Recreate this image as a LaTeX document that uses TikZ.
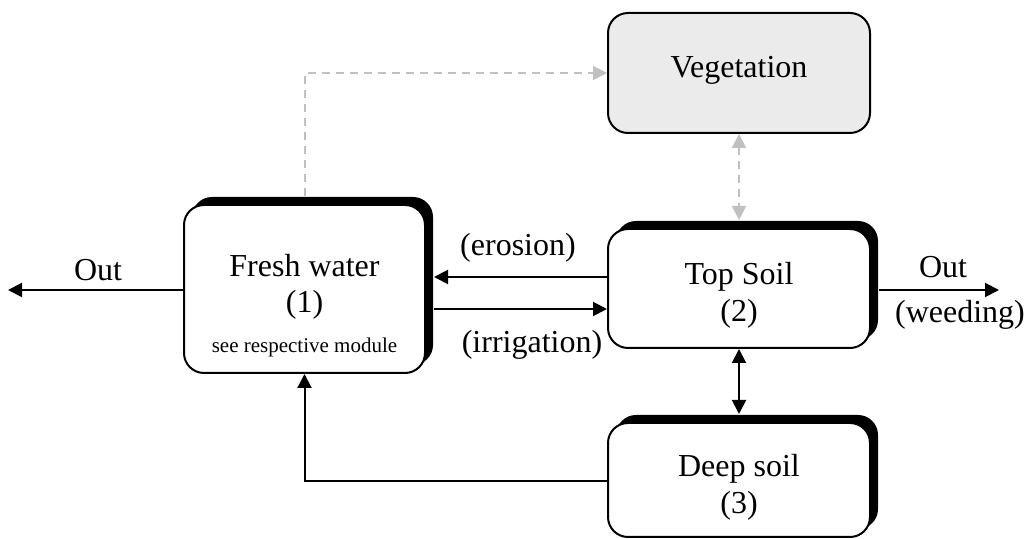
\documentclass[tikz,border=0pt]{standalone}
\usepackage{fontspec}
\setmainfont{Liberation Serif}
\usetikzlibrary{arrows.meta,shadows}
\definecolor{vegfill}{HTML}{EBEBEB}
\definecolor{flowgray}{HTML}{C0C0C0}
\begin{document}
\begin{tikzpicture}[x=0.5pt,y=-0.5pt,
  box/.style={draw=black,line width=1pt,rounded corners=10pt,fill=white,
    inner sep=0pt},
  shadowbox/.style={box,drop shadow={shadow xshift=4pt,shadow yshift=4pt,
    fill=black,opacity=1}},
  big/.style={font=\fontsize{16}{19}\selectfont,anchor=base,inner sep=0pt},
  small/.style={font=\fontsize{10.5}{12}\selectfont,anchor=base,inner sep=0pt},
  arr/.style={line width=1pt,-{Triangle[length=7pt,width=7pt]}},
  dblarr/.style={line width=1pt,{Triangle[length=7pt,width=7pt]}-{Triangle[length=7pt,width=7pt]}},
  grayarr/.style={flowgray,line width=1pt,dash pattern=on 4pt off 3pt,
    -{Triangle[length=7pt,width=7pt]}},
  graydbl/.style={flowgray,line width=1pt,dash pattern=on 4pt off 3pt,
    {Triangle[length=7pt,width=7pt]}-{Triangle[length=7pt,width=7pt]}}]
\useasboundingbox (0,0) rectangle (1024,539);

% compartments
\node[shadowbox,minimum width=120.5pt,minimum height=84pt] (fw) at (304.5,289) {};
\node[shadowbox,minimum width=131pt,minimum height=59.5pt] (ts) at (739,288.5) {};
\node[shadowbox,minimum width=131pt,minimum height=57pt] (ds) at (739,480) {};
\node[box,fill=vegfill,minimum width=131pt,minimum height=60pt] (veg) at (739,73) {};

% compartment texts
\node[big] (fw1) at (304.5,277) {Fresh water};
\node[big] (fw2) at (304.5,313) {(1)};
\node[small] (fw3) at (304.5,353) {see respective module};
\node[big] (ts1) at (739,285) {Top Soil};
\node[big] (ts2) at (739,322) {(2)};
\node[big] (veg1) at (739,78) {Vegetation};
\node[big] (ds1) at (739,477) {Deep soil};
\node[big] (ds2) at (739,514) {(3)};

% shadow edges used as connector ends
\coordinate (fwR) at ([xshift=4pt]fw.east);
\coordinate (fwT) at ([yshift=4pt]fw.north);
\coordinate (tsR) at ([xshift=4pt]ts.east);
\coordinate (tsT) at ([yshift=4pt]ts.north);
\coordinate (dsT) at ([yshift=4pt]ds.north);
\coordinate (outL) at (8,290);
\coordinate (outR) at (999,290);

% flows
\draw[arr] (fw.west |- outL) -- (outL);
\draw[arr] (tsR |- outR) -- (outR);
\draw[arr] (ts.west |- 0,277) -- (fwR |- 0,277);
\draw[arr] (fwR |- 0,309) -- (ts.west |- 0,309);
\draw[dblarr] (ts.south) -- (dsT);
\draw[arr] (ds.west |- 0,481) -| (fw.south);
\draw[grayarr] (fwT) |- (veg.west);
\draw[graydbl] (veg.south) -- (tsT);

% flow labels
\node[big] (outLl) at (98,281) {Out};
\node[big] (outRl) at (943,278) {Out};
\node[big] (weed) at (960,323) {(weeding)};
\node[big] (eros) at (518,256) {(erosion)};
\node[big] (irri) at (532,353) {(irrigation)};
\end{tikzpicture}
\end{document}
